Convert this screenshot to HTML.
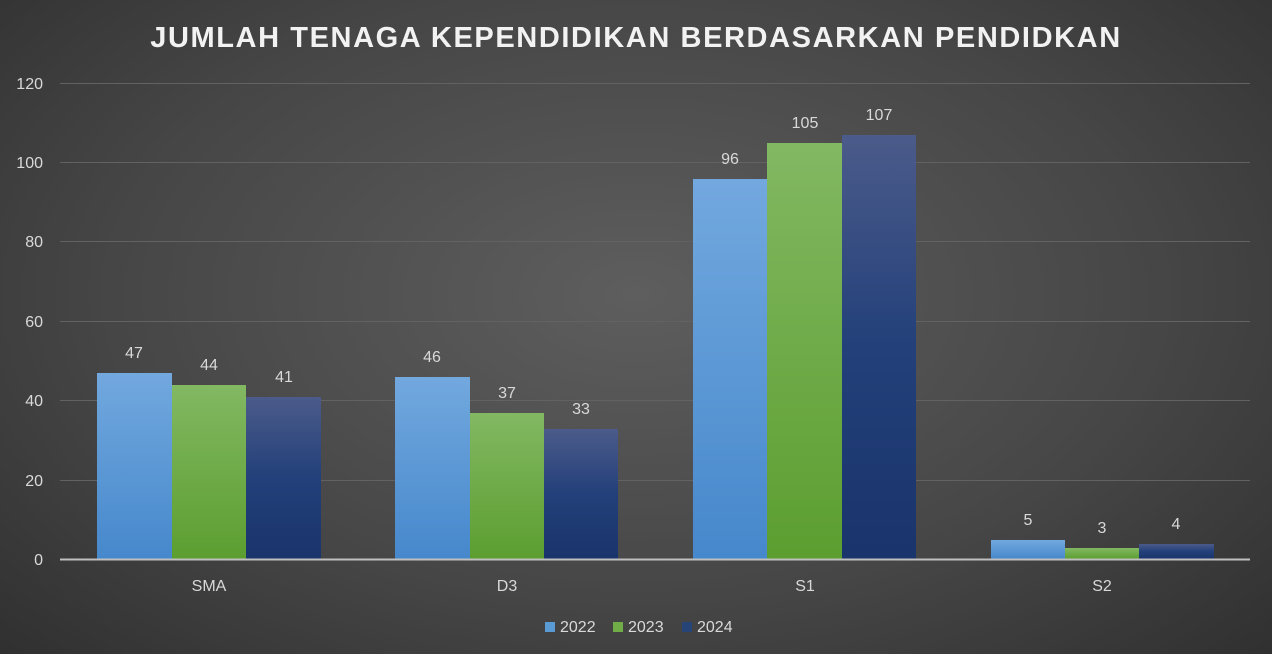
<!DOCTYPE html>
<html><head><meta charset="utf-8"><style>
html,body{margin:0;padding:0;}
body{width:1272px;height:654px;overflow:hidden;background:radial-gradient(ellipse 75% 85% at 50% 45%,#5e5e5e 0%,#464646 55%,#2c2c2c 100%);font-family:"Liberation Sans",sans-serif;}
</style></head><body>
<svg width="1272" height="654" xmlns="http://www.w3.org/2000/svg" style="position:absolute;left:0;top:0">
<defs>
<linearGradient id="b" x1="0" y1="0" x2="0" y2="1"><stop offset="0" stop-color="#72a8de"/><stop offset="1" stop-color="#4688cc"/></linearGradient>
<linearGradient id="g" x1="0" y1="0" x2="0" y2="1"><stop offset="0" stop-color="#82b862"/><stop offset="1" stop-color="#5c9e30"/></linearGradient>
<linearGradient id="n" x1="0" y1="0" x2="0" y2="1"><stop offset="0" stop-color="#4b5b8a"/><stop offset="0.5" stop-color="#23407a"/><stop offset="1" stop-color="#1a346c"/></linearGradient>
</defs>
<text x="636" y="47" text-anchor="middle" fill="#f2f2f2" font-size="29" font-weight="bold" letter-spacing="1.6">JUMLAH TENAGA KEPENDIDIKAN BERDASARKAN PENDIDKAN</text>
<g stroke="#626262" stroke-width="1">
<line x1="60" x2="1250" y1="83.5" y2="83.5"/><line x1="60" x2="1250" y1="162.5" y2="162.5"/><line x1="60" x2="1250" y1="241.5" y2="241.5"/><line x1="60" x2="1250" y1="321.5" y2="321.5"/><line x1="60" x2="1250" y1="400.5" y2="400.5"/><line x1="60" x2="1250" y1="480.5" y2="480.5"/>
</g>
<g fill="#d9d9d9" font-size="16" text-anchor="end">
<text x="43" y="89">120</text><text x="43" y="168">100</text><text x="43" y="247">80</text><text x="43" y="327">60</text><text x="43" y="406">40</text><text x="43" y="486">20</text><text x="43" y="565">0</text>
</g>
<g>
<rect x="97" y="373" width="75" height="186" fill="url(#b)"/>
<rect x="172" y="385" width="74" height="174" fill="url(#g)"/>
<rect x="246" y="397" width="75" height="162" fill="url(#n)"/>
<rect x="395" y="377" width="75" height="182" fill="url(#b)"/>
<rect x="470" y="413" width="74" height="146" fill="url(#g)"/>
<rect x="544" y="429" width="74" height="130" fill="url(#n)"/>
<rect x="693" y="179" width="74" height="380" fill="url(#b)"/>
<rect x="767" y="143" width="75" height="416" fill="url(#g)"/>
<rect x="842" y="135" width="74" height="424" fill="url(#n)"/>
<rect x="991" y="540" width="74" height="19" fill="url(#b)"/>
<rect x="1065" y="548" width="74" height="11" fill="url(#g)"/>
<rect x="1139" y="544" width="75" height="15" fill="url(#n)"/>
</g>
<line x1="60" x2="1250" y1="559.5" y2="559.5" stroke="#bfbfbf" stroke-width="2"/>
<g fill="#d9d9d9" font-size="16" text-anchor="middle">
<text x="134" y="358">47</text><text x="209" y="370">44</text><text x="284" y="382">41</text>
<text x="432" y="362">46</text><text x="507" y="398">37</text><text x="581" y="414">33</text>
<text x="730" y="164">96</text><text x="805" y="128">105</text><text x="879" y="120">107</text>
<text x="1028" y="525">5</text><text x="1102" y="533">3</text><text x="1176" y="529">4</text>
<text x="209" y="591">SMA</text><text x="507" y="591">D3</text><text x="805" y="591">S1</text><text x="1102" y="591">S2</text>
</g>
<g font-size="16" fill="#d9d9d9">
<rect x="545" y="622" width="10" height="10" fill="#5b9bd5"/><text x="560" y="632">2022</text>
<rect x="613" y="622" width="10" height="10" fill="#70ad47"/><text x="628" y="632">2023</text>
<rect x="682" y="622" width="10" height="10" fill="#264478"/><text x="697" y="632">2024</text>
</g>
</svg>
</body></html>
